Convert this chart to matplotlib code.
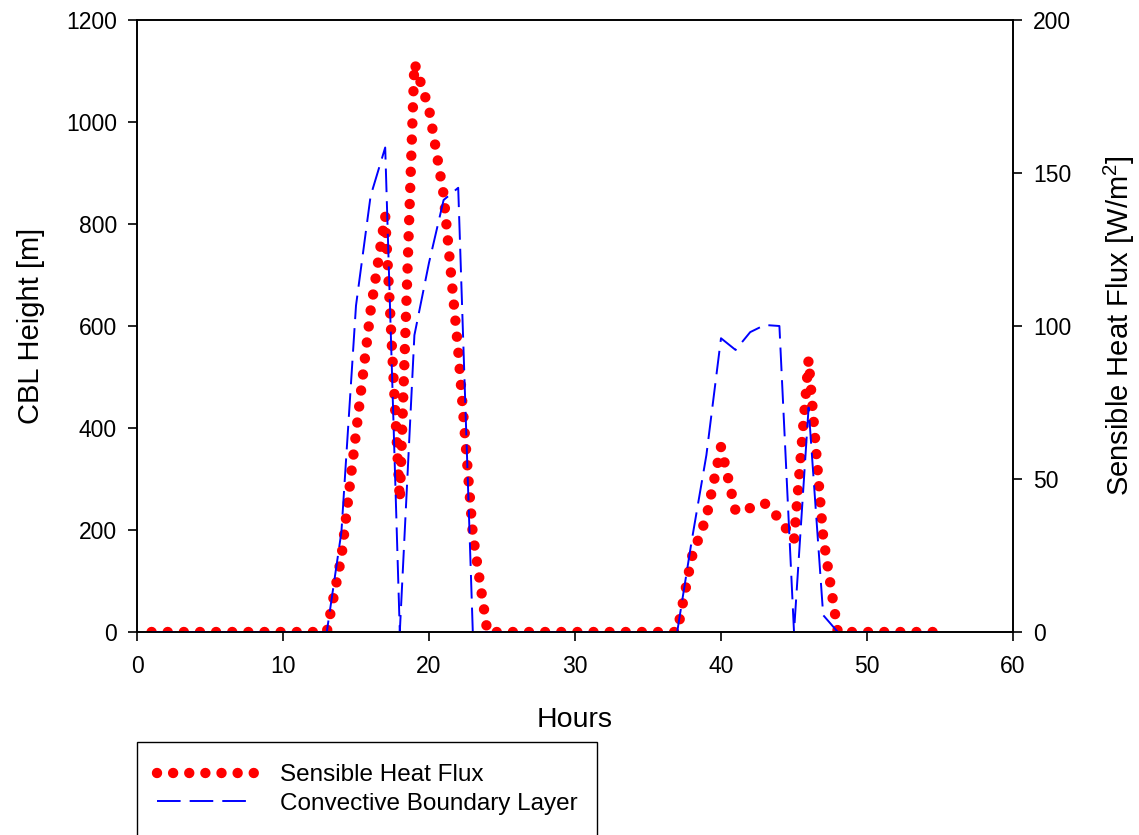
import matplotlib
matplotlib.use("Agg")
import matplotlib.pyplot as plt
from matplotlib.patches import Rectangle

plt.rcParams['font.family'] = ['Liberation Sans', 'DejaVu Sans']
plt.rcParams['mathtext.fontset'] = 'custom'
plt.rcParams['mathtext.rm'] = 'Liberation Sans'
plt.rcParams['mathtext.it'] = 'Liberation Sans'
plt.rcParams['lines.scale_dashes'] = False

hours = list(range(1, 56))

# Sensible heat flux [W/m^2] (right axis)
shf = ([0] * 12 +
       [0, 24.5, 65, 105, 136, 43, 186, 171, 143, 92, 32, 0] +
       [0] * 12 +
       [0, 24.5, 37.5, 60.5, 39.5, 40.5, 42, 37, 30, 89, 31, 0] +
       [0] * 7)

# Convective boundary layer height [m] (left axis)
cbl = ([0] * 13 +
       [196, 640, 855, 950, 0, 582, 724, 847, 871, 0] +
       [0] * 14 +
       [180, 347, 576, 553, 588, 602, 600, 0, 440, 33, 0] +
       [0] * 7)

x_ticks = [0, 10, 20, 30, 40, 50, 60]
left_ticks = [0, 200, 400, 600, 800, 1000, 1200]
right_ticks = [0, 50, 100, 150, 200]

W, H = 1139, 835
fig = plt.figure(figsize=(W / 100, H / 100), dpi=100)
ax = fig.add_axes([137 / W, 1 - 632 / H, (1013 - 137) / W, (632 - 20) / H])
ax2 = ax.twinx()

l_shf, = ax2.plot(hours, shf, color='red', lw=7.5, linestyle=(0, (0.01, 11.6)),
                  dash_capstyle='round', label='Sensible Heat Flux')
l_cbl, = ax.plot(hours, cbl, color='blue', lw=1.4, linestyle=(0, (17, 6.5)),
                 label='Convective Boundary Layer')

ax.set_zorder(ax2.get_zorder() + 1)
ax.patch.set_visible(False)

ax.set_xlim(0, 60)
ax.set_ylim(0, 1200)
ax2.set_ylim(0, 200)
ax.set_xticks(x_ticks)
ax.set_yticks(left_ticks)
ax2.set_yticks(right_ticks)

for a in (ax, ax2):
    a.tick_params(direction='out', length=6.5, width=1.2, labelsize=16.5, pad=8)
    for s in a.spines.values():
        s.set_linewidth(1.2)
        s.set_color('black')
ax.tick_params(axis='x', pad=10)

ax.set_xlabel('Hours', fontsize=20.5, labelpad=21)
ax.set_ylabel('CBL Height [m]', fontsize=21, labelpad=15)
ax2.set_ylabel(r'Sensible Heat Flux [W/m$^2$]', fontsize=21, labelpad=22)

# legend box extending beyond the bottom edge
fig.patches.append(Rectangle((137 / W, 1 - 850 / H), (597 - 137) / W, (850 - 742) / H,
                             transform=fig.transFigure, fill=False,
                             edgecolor='black', lw=1.0))
fig.legend(handles=[l_shf, l_cbl], loc='upper left',
           bbox_to_anchor=(139.5 / W, 1 - 747 / H), frameon=False,
           fontsize=17.5, handlelength=4.0, handletextpad=1.1, labelspacing=0.27,
           borderpad=0.2)

fig.savefig('out.png', dpi=100)
